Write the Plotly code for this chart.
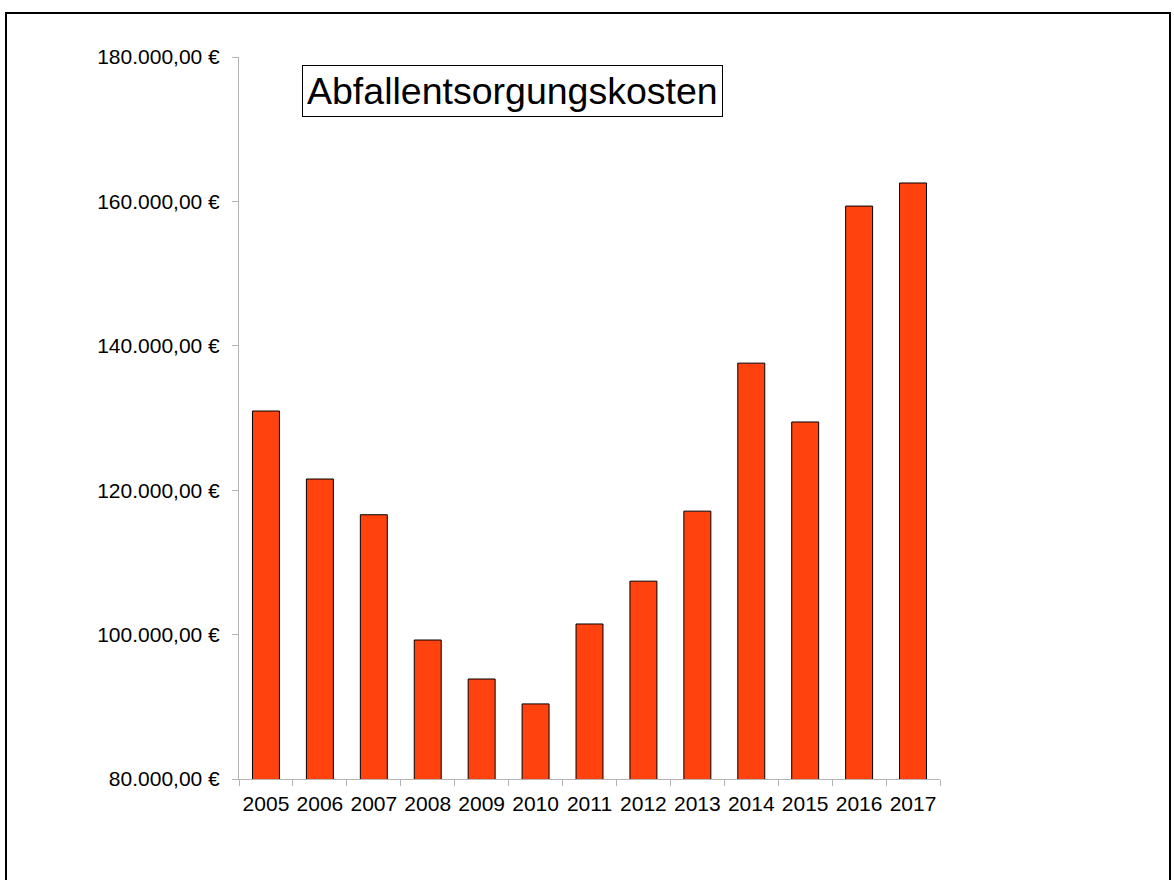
import plotly.graph_objects as go

years = ["2005", "2006", "2007", "2008", "2009", "2010", "2011",
         "2012", "2013", "2014", "2015", "2016", "2017"]
kosten = [130970, 121550, 116600, 99250, 93850, 90400, 101470,
          107400, 117100, 137600, 129450, 159350, 162550]
y_range = [80000, 180000]
title_text = "Abfallentsorgungskosten"

W, H = 1174, 880
L, R, T, B = 239, 234, 57, 101
pw, ph = W - L - R, H - T - B

def px(x):
    return (x - L) / pw

def py(y):
    return (H - B - y) / ph

fig = go.Figure()
fig.add_trace(go.Bar(
    x=years, y=kosten,
    marker=dict(color="#ff420e", line=dict(color="#000000", width=1)),
))

axis_gray = "#b3b3b3"
fig.update_layout(
    width=W, height=H,
    margin=dict(l=L, r=R, t=T, b=B, pad=0),
    paper_bgcolor="white", plot_bgcolor="white",
    font=dict(family="Liberation Sans, Arial, sans-serif", size=21, color="black"),
    separators=",.",
    showlegend=False,
    bargap=0.5,
    xaxis=dict(
        type="category", showgrid=False, showline=True, linecolor=axis_gray,
        linewidth=1, ticks="outside", ticklen=6, tickcolor=axis_gray,
        tickson="boundaries", tickfont=dict(size=21), fixedrange=True,
        ticklabelstandoff=6, tickangle=0,
    ),
    yaxis=dict(
        range=y_range, dtick=20000, tickformat=",.2f", ticksuffix=" €",
        showgrid=False, showline=True, linecolor=axis_gray, linewidth=1,
        ticks="outside", ticklen=6, tickcolor=axis_gray, zeroline=False,
        tickfont=dict(size=21), ticklabelstandoff=8,
    ),
    annotations=[dict(
        text=title_text, xref="paper", yref="paper",
        x=px(302), y=py(65), xanchor="left", yanchor="top",
        showarrow=False, font=dict(size=37.5, color="black"),
        bordercolor="black", borderwidth=1, borderpad=4, bgcolor="white",
    )],
    shapes=[dict(
        type="rect", xref="paper", yref="paper",
        x0=px(6), x1=px(1170), y0=py(13), y1=py(900),
        line=dict(color="black", width=2), fillcolor="rgba(0,0,0,0)",
        layer="below",
    )],
)

fig.write_html(
    "out.html",
    config={"displayModeBar": False},
    post_script="document.body.style.margin='0';document.body.style.overflow='hidden';",
)
